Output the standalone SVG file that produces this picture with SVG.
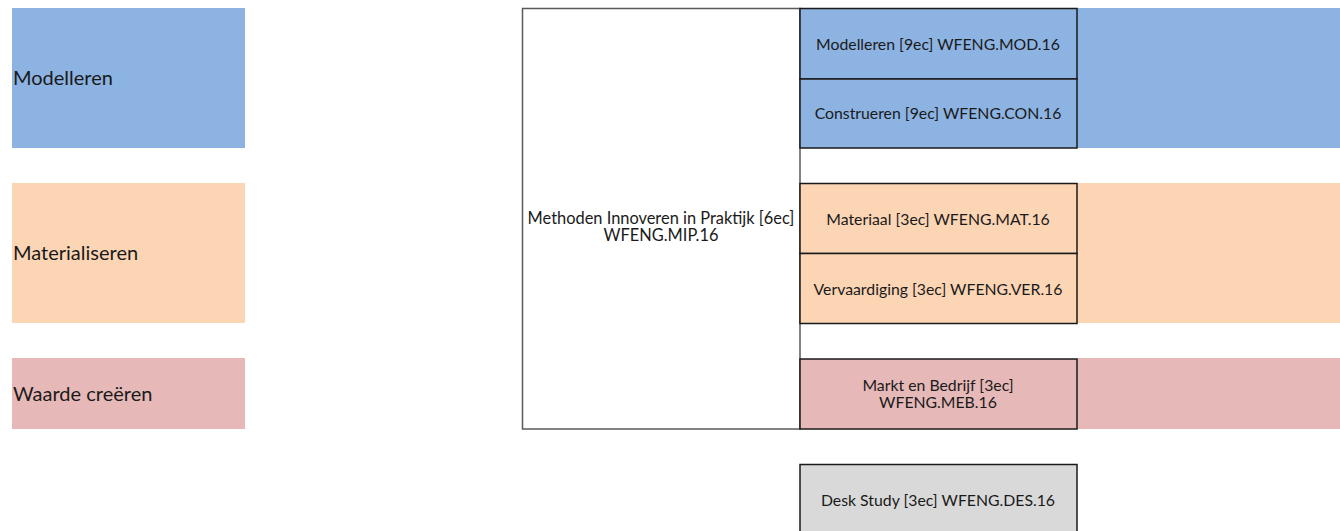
<svg xmlns="http://www.w3.org/2000/svg" width="1340" height="531" viewBox="0 0 1340 531">
<style>
.band{stroke:none}
.blue{fill:#8db3e2}
.orange{fill:#fcd5b5}
.pink{fill:#e6b9b8}
.gray{fill:#d9d9d9}
.box{stroke:#1a1a1a;stroke-width:1.5}
.big{fill:#ffffff;stroke:#5a5a5a;stroke-width:1.5}
.lbl{font-family:Lato,"Liberation Sans",sans-serif;font-size:20px;fill:#1a1a1a;dominant-baseline:central}
.t{font-family:Lato,"Liberation Sans",sans-serif;font-size:15.8px;fill:#1a1a1a;text-anchor:middle;dominant-baseline:central}
.tm{font-size:16.4px}
</style>
<rect width="1340" height="531" fill="#ffffff"/>
<g id="band-modelleren">
<rect class="band blue" x="12" y="8" width="233" height="140"/>
<rect class="band blue" x="1077" y="8" width="263" height="140"/>
<text class="lbl" x="13" y="77">Modelleren</text>
</g>
<g id="band-materialiseren">
<rect class="band orange" x="12" y="183" width="233" height="140"/>
<rect class="band orange" x="1077" y="183" width="263" height="140"/>
<text class="lbl" x="13" y="252">Materialiseren</text>
</g>
<g id="band-waarde">
<rect class="band pink" x="12" y="358" width="233" height="71"/>
<rect class="band pink" x="1077" y="358" width="263" height="71"/>
<text class="lbl" x="13" y="393">Waarde creëren</text>
</g>
<g id="mip">
<rect class="big" x="522.5" y="8.5" width="277.5" height="420.5"/>
<text class="t tm" x="661" y="217">Methoden Innoveren in Praktijk [6ec]</text>
<text class="t tm" x="661" y="234">WFENG.MIP.16</text>
</g>
<g id="mod">
<rect class="box blue" x="800" y="8.5" width="277" height="70.5"/>
<text class="t" x="938" y="43">Modelleren [9ec] WFENG.MOD.16</text>
</g>
<g id="con">
<rect class="box blue" x="800" y="79" width="277" height="69"/>
<text class="t" x="938" y="112">Construeren [9ec] WFENG.CON.16</text>
</g>
<g id="mat">
<rect class="box orange" x="800" y="183.5" width="277" height="70"/>
<text class="t" x="938" y="218">Materiaal [3ec] WFENG.MAT.16</text>
</g>
<g id="ver">
<rect class="box orange" x="800" y="253.5" width="277" height="70"/>
<text class="t" x="938" y="288">Vervaardiging [3ec] WFENG.VER.16</text>
</g>
<g id="meb">
<rect class="box pink" x="800" y="359" width="277" height="70"/>
<text class="t" x="938" y="384">Markt en Bedrijf [3ec]</text>
<text class="t" x="938" y="401">WFENG.MEB.16</text>
</g>
<g id="des">
<rect class="box gray" x="800" y="464.5" width="277" height="72"/>
<text class="t" x="938" y="499">Desk Study [3ec] WFENG.DES.16</text>
</g>
<g id="connectors"/>
</svg>
